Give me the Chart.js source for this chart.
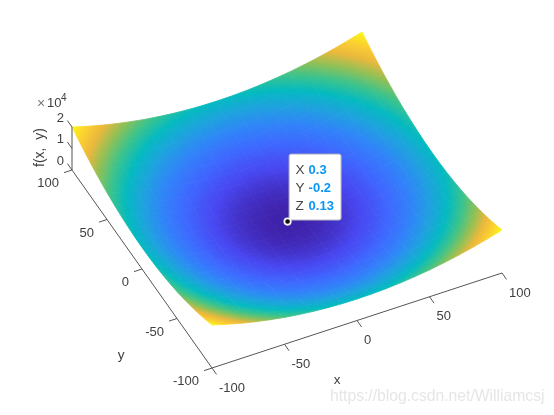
<!DOCTYPE html>
<html>
<head>
<meta charset="utf-8">
<style>html,body{margin:0;padding:0;background:#fff}canvas{display:block}</style>
<script src="https://cdn.jsdelivr.net/npm/chart.js@4"></script>
</head>
<body>
<canvas id="surf" width="554" height="415"></canvas>
<script>
// surface samples
var xGrid = [-100,-90,-80,-70,-60,-50,-40,-30,-20,-10,0,10,20,30,40,50,60,70,80,90,100];
var yGrid = [-100,-90,-80,-70,-60,-50,-40,-30,-20,-10,0,10,20,30,40,50,60,70,80,90,100];
var zGrid = [
  [20000,18100,16400,14900,13600,12500,11600,10900,10400,10100,10000,10100,10400,10900,11600,12500,13600,14900,16400,18100,20000],
  [18100,16200,14500,13000,11700,10600,9700,9000,8500,8200,8100,8200,8500,9000,9700,10600,11700,13000,14500,16200,18100],
  [16400,14500,12800,11300,10000,8900,8000,7300,6800,6500,6400,6500,6800,7300,8000,8900,10000,11300,12800,14500,16400],
  [14900,13000,11300,9800,8500,7400,6500,5800,5300,5000,4900,5000,5300,5800,6500,7400,8500,9800,11300,13000,14900],
  [13600,11700,10000,8500,7200,6100,5200,4500,4000,3700,3600,3700,4000,4500,5200,6100,7200,8500,10000,11700,13600],
  [12500,10600,8900,7400,6100,5000,4100,3400,2900,2600,2500,2600,2900,3400,4100,5000,6100,7400,8900,10600,12500],
  [11600,9700,8000,6500,5200,4100,3200,2500,2000,1700,1600,1700,2000,2500,3200,4100,5200,6500,8000,9700,11600],
  [10900,9000,7300,5800,4500,3400,2500,1800,1300,1000,900,1000,1300,1800,2500,3400,4500,5800,7300,9000,10900],
  [10400,8500,6800,5300,4000,2900,2000,1300,800,500,400,500,800,1300,2000,2900,4000,5300,6800,8500,10400],
  [10100,8200,6500,5000,3700,2600,1700,1000,500,200,100,200,500,1000,1700,2600,3700,5000,6500,8200,10100],
  [10000,8100,6400,4900,3600,2500,1600,900,400,100,0,100,400,900,1600,2500,3600,4900,6400,8100,10000],
  [10100,8200,6500,5000,3700,2600,1700,1000,500,200,100,200,500,1000,1700,2600,3700,5000,6500,8200,10100],
  [10400,8500,6800,5300,4000,2900,2000,1300,800,500,400,500,800,1300,2000,2900,4000,5300,6800,8500,10400],
  [10900,9000,7300,5800,4500,3400,2500,1800,1300,1000,900,1000,1300,1800,2500,3400,4500,5800,7300,9000,10900],
  [11600,9700,8000,6500,5200,4100,3200,2500,2000,1700,1600,1700,2000,2500,3200,4100,5200,6500,8000,9700,11600],
  [12500,10600,8900,7400,6100,5000,4100,3400,2900,2600,2500,2600,2900,3400,4100,5000,6100,7400,8900,10600,12500],
  [13600,11700,10000,8500,7200,6100,5200,4500,4000,3700,3600,3700,4000,4500,5200,6100,7200,8500,10000,11700,13600],
  [14900,13000,11300,9800,8500,7400,6500,5800,5300,5000,4900,5000,5300,5800,6500,7400,8500,9800,11300,13000,14900],
  [16400,14500,12800,11300,10000,8900,8000,7300,6800,6500,6400,6500,6800,7300,8000,8900,10000,11300,12800,14500,16400],
  [18100,16200,14500,13000,11700,10600,9700,9000,8500,8200,8100,8200,8500,9000,9700,10600,11700,13000,14500,16200,18100],
  [20000,18100,16400,14900,13600,12500,11600,10900,10400,10100,10000,10100,10400,10900,11600,12500,13600,14900,16400,18100,20000]
];
var xTicks = [-100,-50,0,50,100];
var yTicks = [-100,-50,0,50,100];
var zTicks = [0,10000,20000];
var zTickLabels = ['0','1','2'];
var tipPoint = {x: 0.3, y: -0.2, z: 0.13};
var tipRows = [['X','0.3'],['Y','-0.2'],['Z','0.13']];

var parula = [[62,32,168],[72,70,240],[62,104,255],[48,132,248],[30,162,222],[4,186,192],
              [60,195,140],[145,192,85],[235,184,60],[252,208,48],[250,248,20]];
var textColor = '#404040';
var font = '"Liberation Sans", Arial, sans-serif';

// fixed orthographic view, result goes on the page-sized linear scales
function view(x, y, z) {
  return {x: 287 + 1.45 * x - 0.70 * y, y: 221.5 - 0.475 * x - 0.99 * y - 0.00215 * z};
}

var ctx = document.getElementById('surf').getContext('2d');
var zMax = 20000, levels = 40;

function colorAt(z) {
  var p = Math.min(Math.max(z / zMax, 0), 1) * 10, i = Math.min(Math.floor(p), 9), f = p - i;
  var c = parula[i].map(function (v, k) { return Math.round(v + (parula[i + 1][k] - v) * f); });
  return 'rgb(' + c.join(',') + ')';
}

// colour along the steepest direction of the cell
function cellPaint(i, j) {
  var z00 = zGrid[j][i], z10 = zGrid[j][i + 1], z01 = zGrid[j + 1][i], z11 = zGrid[j + 1][i + 1];
  var lo = Math.min(z00, z10, z01, z11), hi = Math.max(z00, z10, z01, z11);
  var p00 = view(xGrid[i], yGrid[j], z00), p10 = view(xGrid[i + 1], yGrid[j], z10), p01 = view(xGrid[i], yGrid[j + 1], z01);
  var ux = p10.x - p00.x, uy = p10.y - p00.y, vx = p01.x - p00.x, vy = p01.y - p00.y;
  var det = ux * vy - uy * vx, du = z10 - z00, dv = z01 - z00;
  var ax = (du * vy - dv * uy) / det, ay = (ux * dv - vx * du) / det, n = ax * ax + ay * ay;
  var g = ctx.createLinearGradient(p00.x + ax / n * (lo - z00), p00.y + ay / n * (lo - z00),
                                   p00.x + ax / n * (hi - z00), p00.y + ay / n * (hi - z00));
  var step = zMax / levels;
  g.addColorStop(0, colorAt(lo));
  for (var l = Math.floor(lo / step) + 1; l * step < hi; l++) {
    g.addColorStop((l * step - lo) / (hi - lo), colorAt(l * step));
  }
  g.addColorStop(1, colorAt(hi));
  return g;
}

function lineSet(pts) {
  return {data: pts, showLine: true, fill: false, borderColor: '#555', borderWidth: 1, pointRadius: 0};
}

var datasets = [];
// first in the list is painted last
datasets.push({label: 'tip', data: [view(tipPoint.x, tipPoint.y, tipPoint.z)], showLine: false, pointRadius: 3.2,
  backgroundColor: '#111', borderColor: '#f4f4f4', borderWidth: 1.8});

datasets.push(lineSet([view(-100, -100, 0), view(100, -100, 0)]));
datasets.push(lineSet([view(-100, -100, 0), view(-100, 100, 0)]));
datasets.push(lineSet([view(-100, 100, 0), view(-100, 100, 20000)]));
xTicks.forEach(function (t) { datasets.push(lineSet([view(t, -100, 0), view(t, -106.5, 0)])); });
yTicks.forEach(function (t) { datasets.push(lineSet([view(-100, t, 0), view(-105.5, t, 0)])); });
zTicks.forEach(function (t) { datasets.push(lineSet([view(-100, 100, t), view(-100, 106.5, t)])); });

for (var j = 0; j < yGrid.length - 1; j++) {
  for (var i = 0; i < xGrid.length - 1; i++) {
    var paint = cellPaint(i, j);
    datasets.push({
      data: [view(xGrid[i], yGrid[j], zGrid[j][i]), view(xGrid[i + 1], yGrid[j], zGrid[j][i + 1]),
             view(xGrid[i + 1], yGrid[j + 1], zGrid[j + 1][i + 1]), view(xGrid[i], yGrid[j + 1], zGrid[j + 1][i]),
             view(xGrid[i], yGrid[j], zGrid[j][i])],
      showLine: true, fill: 'shape', backgroundColor: paint, borderColor: paint, borderWidth: 0.8, pointRadius: 0
    });
  }
}

function put(c, text, x, y, align, size, color, weight) {
  c.font = (weight ? weight + ' ' : '') + size + 'px ' + font;
  c.fillStyle = color || textColor;
  c.textAlign = align || 'center';
  c.textBaseline = 'middle';
  c.fillText(text, x, y);
}

var surfaceText = {
  id: 'surfaceText',
  // data tip sits above the surface and below its own marker
  beforeDatasetDraw: function (chart, args) {
    if (args.index !== 0) return;
    var c = chart.ctx, p = view(tipPoint.x, tipPoint.y, tipPoint.z);
    var sx = chart.scales.x.getPixelForValue(p.x), sy = chart.scales.y.getPixelForValue(p.y);
    c.save();
    c.beginPath();
    c.roundRect(sx + 1.5, sy - 67.5, 52, 66, 2);
    c.fillStyle = '#fff';
    c.fill();
    c.lineWidth = 1;
    c.strokeStyle = '#b0b0bc';
    c.stroke();
    tipRows.forEach(function (r, k) {
      put(c, r[0], sx + 8, sy - 51 + k * 18, 'left', 13.5, '#444');
      put(c, r[1], sx + 21, sy - 51 + k * 18, 'left', 13, '#0a96f5', 'bold');
    });
    c.restore();
  },
  afterDraw: function (chart) {
    var c = chart.ctx, sc = chart.scales;
    function pos(p) { return {x: sc.x.getPixelForValue(p.x), y: sc.y.getPixelForValue(p.y)}; }
    c.save();
    xTicks.forEach(function (t) {
      var p = pos(view(t, -100, 0));
      put(c, String(t), p.x + 7, p.y + 20, 'left', 13);
    });
    yTicks.forEach(function (t) {
      var p = pos(view(-100, t, 0));
      put(c, String(t), p.x - 13, p.y + 13.5, 'right', 13);
    });
    zTicks.forEach(function (t, k) {
      var p = pos(view(-100, 100, t));
      put(c, zTickLabels[k], p.x - 8, p.y - 9, 'right', 13);
    });
    put(c, 'x', 337, 380, 'center', 13.5);
    put(c, 'y', 121, 355, 'center', 13.5);
    // exponent label
    put(c, '\u00d7', 41, 104, 'center', 14, '#777');
    put(c, '10', 47, 103, 'left', 13);
    put(c, '4', 61, 98, 'left', 10);
    c.translate(40, 147.5);
    c.rotate(-Math.PI / 2);
    put(c, 'f(x,  y)', 0, 0, 'center', 14);
    c.setTransform(1, 0, 0, 1, 0, 0);
    put(c, 'https://blog.csdn.net/Williamcsj', 330, 397, 'left', 15.7, '#e6e6e6');
    c.restore();
  }
};

new Chart(ctx, {
  type: 'scatter',
  data: {datasets: datasets},
  plugins: [surfaceText],
  options: {
    responsive: false,
    animation: false,
    events: [],
    layout: {padding: 0, autoPadding: false},
    plugins: {legend: {display: false}, tooltip: {enabled: false}},
    scales: {
      x: {type: 'linear', min: 0, max: 554, display: false},
      y: {type: 'linear', min: 0, max: 415, reverse: true, display: false}
    }
  }
});
</script>
</body>
</html>
